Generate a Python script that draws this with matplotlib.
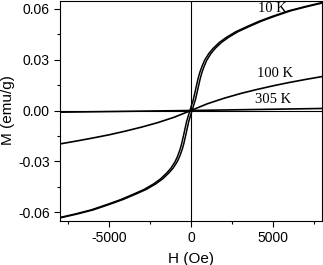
import numpy as np
import matplotlib.pyplot as plt
from matplotlib.ticker import MultipleLocator

plt.rcParams['axes.unicode_minus'] = False

H10 = np.array([-8000, -7000, -6000, -5000, -4200, -3450, -2800, -2230, -1800, -1420,
                -1150, -900, -750, -600, -500, -400, -300, -200, -100, 0,
                100, 200, 300, 400, 500, 600, 750, 900, 1150, 1420, 1800, 2230,
                2800, 3450, 4200, 5000, 6000, 7000, 8000])
M10 = np.array([-0.0634, -0.0612, -0.0587, -0.0554, -0.0526, -0.0495, -0.0467, -0.0435,
                -0.0405, -0.0370, -0.0340, -0.0302, -0.0270, -0.0230, -0.0195, -0.0152,
                -0.0108, -0.0064, -0.0032, 0.0,
                0.0032, 0.0062, 0.0105, 0.0148, 0.0190, 0.0225, 0.0265, 0.0298,
                0.0337, 0.0368, 0.0403, 0.0433, 0.0466, 0.0495, 0.0527, 0.0556,
                0.0589, 0.0614, 0.0637])
hc10 = 65  # small coercivity, seen as two branches near the origin

H100 = np.array([-8000, -7000, -6000, -5000, -4000, -3000, -2000, -1000, 0,
                 1000, 2000, 3000, 4000, 5000, 6000, 7000, 8000])
M100 = np.array([-0.0198, -0.0181, -0.0163, -0.0144, -0.0122, -0.0098, -0.0071, -0.0039, 0.0,
                 0.0040, 0.0072, 0.0100, 0.0124, 0.0146, 0.0166, 0.0184, 0.0201])

H305 = np.array([-8000, -4000, 0, 4000, 8000])
M305 = np.array([-0.0010, -0.0005, 0.0, 0.0006, 0.0012])

labels = ['10 K', '100 K', '305 K']
label_pos = [(4960, 0.0601), (5110, 0.0221), (4990, 0.0065)]

fig = plt.figure(figsize=(3.23, 2.65), dpi=100)
ax = fig.add_axes([60 / 323, 44.5 / 265, 262 / 323, 220 / 265])

ax.axhline(0, color='black', lw=0.8)
ax.axvline(0, color='black', lw=0.8)

ax.plot(H10 - hc10, M10, color='black', lw=1.1)
ax.plot(H10 + hc10, M10, color='black', lw=1.1)
ax.plot(H100, M100, color='black', lw=1.2)
ax.plot(H305, M305, color='black', lw=1.2)

for txt, (x, y) in zip(labels, label_pos):
    ax.text(x, y, txt, ha='center', va='center', family='Liberation Serif', size=10.5)

ax.set_xlim(-7970, 7970)
ax.set_ylim(-0.065, 0.065)
ax.xaxis.set_major_locator(MultipleLocator(5000))
ax.xaxis.set_minor_locator(MultipleLocator(2500))
ax.yaxis.set_major_locator(MultipleLocator(0.03))
ax.yaxis.set_minor_locator(MultipleLocator(0.015))
ax.yaxis.set_major_formatter(plt.FormatStrFormatter('%.2f'))
ax.tick_params(which='major', direction='out', length=4, width=0.8)
ax.tick_params(which='minor', direction='out', length=2, width=0.8)
for lab in ax.get_xticklabels() + ax.get_yticklabels():
    lab.set_fontfamily('Liberation Sans')
    lab.set_fontsize(10)

ax.set_xlabel('H (Oe)', fontdict={'family': 'Liberation Sans', 'size': 11}, labelpad=5)
ax.set_ylabel('M (emu/g)', fontdict={'family': 'Liberation Sans', 'size': 11}, labelpad=2)

fig.savefig('out.png', dpi=100)
